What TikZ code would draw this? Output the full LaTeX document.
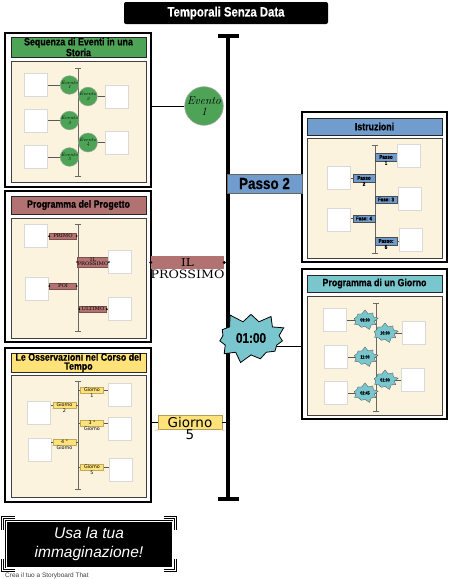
\documentclass[tikz,border=0pt]{standalone}
\usepackage{fontspec}
\usetikzlibrary{positioning, arrows.meta, shapes.symbols, calc}

\newfontfamily\headfont[FakeStretch=0.84, BoldFeatures={FakeBold=0.4}]{Liberation Sans}
\newfontfamily\roundfont{DejaVu Sans}
\newfontfamily\slabfont[FakeStretch=1.1]{DejaVu Serif}
\newfontfamily\notefont{Liberation Sans}

\definecolor{evgreen}{RGB}{78,164,86}
\definecolor{stepblue}{RGB}{112,156,206}
\definecolor{planrose}{RGB}{178,114,114}
\definecolor{clockteal}{RGB}{122,198,206}
\definecolor{dayyellow}{RGB}{255,226,122}
\definecolor{cream}{RGB}{252,243,222}
\definecolor{trackgray}{RGB}{105,105,98}

\begin{document}
\begin{tikzpicture}[x=1pt, y=-1pt,
    frame/.style={rectangle, draw=black, line width=1.6pt, fill=white, inner sep=0pt},
    head/.style={rectangle, draw=black!85, line width=0.9pt, minimum width=135pt,
                 inner sep=0pt, align=center,
                 font=\headfont\bfseries\fontsize{10.5}{9}\selectfont},
    sheet/.style={rectangle, draw=black!75, line width=0.9pt, fill=cream,
                  minimum width=135pt, inner sep=0pt},
    slot/.style={rectangle, draw=black!15, line width=0.9pt, fill=white,
                 minimum size=23pt, inner sep=0pt},
    track/.style={draw=trackgray, line width=0.9pt, {Bar[width=6pt]}-{Bar[width=6pt]}},
    link/.style={draw=black!65, line width=0.8pt},
    evdot/.style={circle, fill=evgreen, draw=black!35, line width=0.4pt, minimum size=17pt,
                  inner sep=0pt, align=center, font=\itshape\fontsize{4.8}{4.6}\selectfont},
    steptag/.style={rectangle, fill=stepblue, draw=black!70, line width=0.4pt,
                    minimum width=22pt, minimum height=7.5pt, inner sep=0.5pt,
                    font=\headfont\bfseries\fontsize{5.4}{5}\selectfont},
    steplow/.style={inner sep=0pt, font=\headfont\bfseries\fontsize{5.4}{5}\selectfont},
    plantag/.style={rectangle, fill=planrose, draw=planrose!70!black, line width=0.3pt,
                    minimum width=27pt, minimum height=6.5pt, inner sep=0.4pt, align=center,
                    font=\slabfont\fontsize{4.8}{4.3}\selectfont},
    clocktag/.style={starburst, starburst points=9, starburst point height=4pt,
                     random starburst=7, fill=clockteal, draw=black!70, line width=0.3pt,
                     inner xsep=2pt, inner ysep=3pt,
                     font=\headfont\bfseries\fontsize{4.4}{4}\selectfont},
    daytag/.style={rectangle, fill=dayyellow, draw=dayyellow!75!black, line width=0.3pt,
                   minimum width=23pt, minimum height=6.5pt, inner sep=0.3pt,
                   font=\roundfont\fontsize{4.8}{4.5}\selectfont},
    daylow/.style={inner sep=0pt, font=\roundfont\fontsize{4.8}{4.5}\selectfont},
    corner/.style={draw=black, line width=1pt, double=white, double distance=0.9pt},
]
\useasboundingbox (0,0) rectangle (449,579);

% title bar
\node[rectangle, rounded corners=2pt, fill=black, minimum width=204pt, minimum height=22pt,
      text=white, font=\headfont\bfseries\fontsize{13.5}{13}\selectfont] (title) at (226,13)
      {Temporali Senza Data};

% --- story panel (green)
\node[frame, minimum width=146pt, minimum height=154pt] (storyframe) at (78,110) {};
\node[head, fill=evgreen, minimum height=20pt] (storyhead) at (78.5,47) {Sequenza di Eventi in una\\Storia};
\node[sheet, minimum height=121pt] (storysheet) at (78.5,121.5) {};
\coordinate (storytop) at (78,68);
\coordinate (storybot) at (78,177);
\draw[track] (storytop) -- (storybot);
\node[evdot] (ev1) at (69.5,85) {Evento\\1};
\node[evdot] (ev2) at (88,96.5) {Evento\\2};
\node[evdot] (ev3) at (69.5,120.5) {Evento\\3};
\node[evdot] (ev4) at (88,142.5) {Evento\\4};
\node[evdot] (ev5) at (69.5,157) {Evento\\5};
\node[slot] (sl1) at (36,85) {};
\node[slot] (sr1) at (117,96.5) {};
\node[slot] (sl2) at (36,120.5) {};
\node[slot] (sr2) at (117,142.5) {};
\node[slot] (sl3) at (36,157) {};
\draw[link] (sl1.east) -- (ev1.west);
\draw[link] (sl2.east) -- (ev3.west);
\draw[link] (sl3.east) -- (ev5.west);
\draw[link] (ev2.east) -- (sr1.west);
\draw[link] (ev4.east) -- (sr2.west);

% --- project panel (rose)
\node[frame, minimum width=146pt, minimum height=151pt] (planframe) at (78,266.5) {};
\node[head, fill=planrose, minimum height=18pt] (planhead) at (78.5,205) {Programma del Progetto};
\node[sheet, minimum height=120pt] (plansheet) at (78.5,278) {};
\coordinate (plantop) at (78,224);
\coordinate (planbot) at (78,332);
\draw[track] (plantop) -- (planbot);
\node[plantag] (primo) at (63,236) {PRIMO};
\node[plantag, minimum height=10pt] (next) at (93,262) {IL\\PROSSIMO};
\node[plantag] (poi) at (63,286) {POI};
\node[plantag] (ultimo) at (93,309) {ULTIMO};
\node[slot] (pl1) at (36,236) {};
\node[slot] (pr1) at (119.5,262) {};
\node[slot] (pl2) at (37,288.5) {};
\node[slot] (pr2) at (119.5,309) {};
\draw[link] (primo.west) -- (primo.west -| pl1.east);
\draw[link] (poi.west) -- (poi.west -| pl2.east);
\draw[link] (next.east) -- (next.east -| pr1.west);
\draw[link] (ultimo.east) -- (ultimo.east -| pr2.west);
\foreach \n in {primo, next, poi, ultimo}
  \fill (\n.west) circle (0.9) (\n.east) circle (0.9);

% --- observation panel (yellow)
\node[frame, minimum width=146pt, minimum height=154pt] (obsframe) at (78,425) {};
\node[head, fill=dayyellow, minimum height=19pt] (obshead) at (78.5,362.5) {Le Osservazioni nel Corso del\\Tempo};
\node[sheet, minimum height=122pt] (obssheet) at (78.5,436) {};
\coordinate (obstop) at (78,381);
\coordinate (obsbot) at (78,490);
\draw[track] (obstop) -- (obsbot);
\node[daytag, label={[daylow]below:1}] (g1) at (92,390) {Giorno};
\node[daytag, label={[daylow]below:2}] (g2) at (64.5,405) {Giorno};
\node[daytag, label={[daylow]below:Giorno}] (g3) at (92,423) {3 °};
\node[daytag, label={[daylow]below:Giorno}] (g4) at (64.5,442) {4 °};
\node[daytag, label={[daylow]below:5}] (g5) at (92,467) {Giorno};
\node[slot] (or1) at (119.5,394.5) {};
\node[slot] (ol1) at (39,412.5) {};
\node[slot] (or2) at (119.5,428.5) {};
\node[slot] (ol2) at (39.5,449.5) {};
\node[slot] (or3) at (120.5,469.5) {};
\foreach \n/\b in {g1/or1, g3/or2, g5/or3} {
  \draw[link] (\n.east) -- (\n.east -| \b.west);
  \draw[link] (\n.west) -- (\n.west -| obstop);
}
\foreach \n/\b in {g2/ol1, g4/ol2} {
  \draw[link] (\n.west) -- (\n.west -| \b.east);
  \draw[link] (\n.east) -- (\n.east -| obstop);
}
\foreach \n in {g1, g2, g3, g4, g5}
  \fill[dayyellow!55!brown] (\n.south west) -- ++(-1.2,0.9) -- ++(2.6,-0.9) -- cycle
                            (\n.south east) -- ++(1.2,0.9) -- ++(-2.6,-0.9) -- cycle;

% --- instructions panel (blue)
\node[frame, minimum width=145pt, minimum height=150pt] (stepframe) at (374.5,187) {};
\node[head, fill=stepblue, minimum height=17pt] (stephead) at (374.5,126.5) {Istruzioni};
\node[sheet, minimum height=120pt] (stepsheet) at (374.5,198) {};
\coordinate (steptop) at (375,145);
\coordinate (stepbot) at (375,254);
\draw[track] (steptop) -- (stepbot);
\node[steptag, label={[steplow]below:1}] (p1) at (386,157) {Passo};
\node[steptag, label={[steplow]below:2}] (p2) at (364,178) {Passo};
\node[steptag] (p3) at (386,199.5) {Fase: 3};
\node[steptag] (p4) at (364,218.5) {Fase: 4};
\node[steptag, label={[steplow]below:5}] (p5) at (386,241) {Passo:};
\node[slot] (ir1) at (408.5,155.5) {};
\node[slot] (il1) at (339,177.5) {};
\node[slot] (ir2) at (410,198.5) {};
\node[slot] (il2) at (339,219.5) {};
\node[slot] (ir3) at (410.5,239.5) {};
\draw[link] (p2.west) -- (p2.west -| il1.east);
\draw[link] (p4.west) -- (p4.west -| il2.east);
\draw[link] (p3.east) -- (p3.east -| ir2.west);
\draw[link] (p5.east) -- (p5.east -| ir3.west);

% --- day panel (teal)
\node[frame, minimum width=145pt, minimum height=150pt] (dayframe) at (374.5,344) {};
\node[head, fill=clockteal, minimum height=17pt] (dayhead) at (374.5,283.5) {Programma di un Giorno};
\node[sheet, minimum height=119pt] (daysheet) at (374.5,355.5) {};
\coordinate (daytop) at (376,303);
\coordinate (daybot) at (376,412);
\draw[track] (daytop) -- (daybot);
\node[slot] (dl1) at (335,320) {};
\node[slot] (dr1) at (414,333) {};
\node[slot] (dl2) at (336,357) {};
\node[slot] (dr2) at (413,380) {};
\node[slot] (dl3) at (336,393) {};
\coordinate (c1) at (365,320);
\foreach \n/\b/\x/\y in {c1/dl1/365/320, c3/dl2/365/357, c5/dl3/365/393, c2/dr1/385/333, c4/dr2/385/380} {
  \draw[link] (\b) -- (\x,\y);
  \draw[link] (\x,\y) -- (\x,\y -| daytop);
}
\node[clocktag] (c1) at (365,320) {09:00};
\node[clocktag] (c2) at (385,333) {10:00};
\node[clocktag] (c3) at (365,357) {11:00};
\node[clocktag] (c4) at (385,380) {01:00};
\node[clocktag] (c5) at (365,393) {02:45};

% --- main time line and its markers
\coordinate (maintop) at (228,34);
\coordinate (mainbot) at (228,501);
\coordinate (clocklink) at (302,346);
\node[evdot, minimum size=38pt, line width=0.6pt, font=\itshape\fontsize{11.5}{11}\selectfont] (evbig) at (204,106) {Evento\\1};
\draw[link, draw=black, line width=1pt] (evbig.west) -- (evbig.west -| storyframe.east);
\node[rectangle, fill=planrose, minimum width=73pt, minimum height=13pt, inner sep=0pt,
      font=\slabfont\fontsize{11}{11}\selectfont,
      label={[inner sep=0pt, label distance=1pt, font=\slabfont\fontsize{11.5}{11}\selectfont]below:PROSSIMO}]
      (nextbig) at (187.5,262.5) {IL};
\fill (nextbig.west) circle (1.6) (nextbig.east) circle (1.6);
\draw[link, draw=black, line width=1pt] (clocklink) -- (clocklink -| maintop);
\node[rectangle, fill=dayyellow, draw=dayyellow!70!black, line width=0.4pt, minimum width=64pt,
      minimum height=14pt, inner sep=0pt, font=\roundfont\fontsize{13.5}{13}\selectfont,
      label={[inner sep=0pt, font=\roundfont\fontsize{13.5}{13}\selectfont]below:5}]
      (daybig) at (190,422) {Giorno};
\fill[dayyellow!55!brown] (daybig.south west) -- ++(-3,2) -- ++(6,-2) -- cycle
                          (daybig.south east) -- ++(3,2) -- ++(-6,-2) -- cycle;
\draw[link, draw=black, line width=1pt] (daybig.west) -- (daybig.west -| obsframe.east);
\draw[link, draw=black, line width=1pt] (daybig.east) -- (daybig.east -| maintop);
\draw[line width=4pt, {Bar[width=21pt]}-{Bar[width=21pt]}] (maintop) -- (mainbot);
\node[rectangle, fill=stepblue, draw=black!60, line width=0.6pt, minimum width=75pt,
      minimum height=19pt, inner sep=0pt, font=\headfont\bfseries\fontsize{16}{16}\selectfont]
      (stepbig) at (264.5,183.5) {Passo 2};
\node[starburst, starburst points=11, starburst point height=11pt, random starburst=5,
      fill=clockteal, draw=black, line width=0.8pt, inner xsep=5pt, inner ysep=7pt,
      font=\headfont\bfseries\fontsize{14}{14}\selectfont]
      (clockbig) at (251,338) {01:00};

% --- motto box
\node[rectangle, fill=black, draw=black, line width=1pt, double=white, double distance=0.9pt,
      minimum width=166pt, minimum height=46pt, align=center, text=white,
      font=\notefont\itshape\fontsize{15.5}{19}\selectfont] (motto) at (89,544)
      {Usa la tua\\immaginazione!};
\foreach \c/\sx/\sy in {north west/-1/-1, north east/1/-1, south west/-1/1, south east/1/1}
  \draw[corner] ($(motto.\c)+(-9*\sx,3*\sy)$) -- ++(12*\sx,0) -- ++(0,-12*\sy);
\node[anchor=west, inner sep=0pt, text=black!75, font=\notefont\fontsize{6.5}{7}\selectfont]
      (credit) at (5,576) {Crea il tuo a Storyboard That};
\end{tikzpicture}
\end{document}
